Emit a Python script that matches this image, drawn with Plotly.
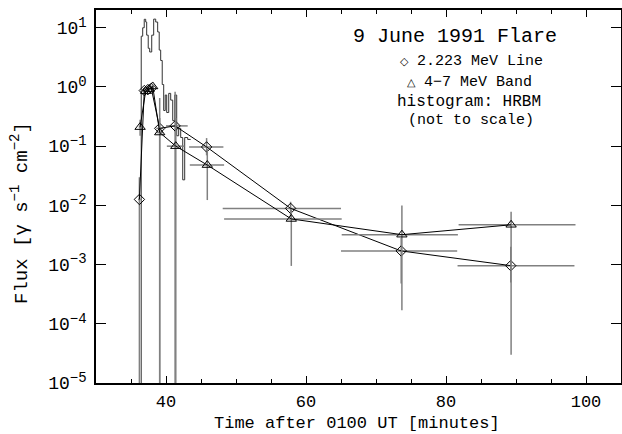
import plotly.graph_objects as go

# 2.223 MeV line (diamonds)
line_t = [36.2, 36.9, 37.4, 37.9, 39.1, 41.3, 45.8, 57.8, 73.6, 89.25]
line_flux = [0.0126, 0.87, 0.9, 0.95, 0.2, 0.22, 0.097, 0.0089, 0.0017, 0.00096]
line_hi = [0.03, 0.95, 0.97, 1.03, 0.65, 0.83, 0.137, 0.0115, 0.0028, 0.002]
line_lo = [1e-9, 0.8, 0.83, 0.88, 1e-9, 1e-9, 0.07, 0.0063, 0.00048, 0.0005]
line_tminus = [0.2, 0.25, 0.25, 0.25, 0.5, 1.3, 2.5, 9.7, 8.6, 7.6]
line_tplus = [0.2, 0.25, 0.25, 0.25, 0.5, 1.8, 2.4, 7.2, 8.0, 9.1]

# 4-7 MeV band (triangles)
band_t = [36.3, 37.1, 37.6, 38.1, 39.1, 41.4, 45.9, 57.9, 73.7, 89.3]
band_flux = [0.21, 0.85, 0.92, 1.02, 0.17, 0.1, 0.048, 0.0059, 0.0032, 0.0047]
band_hi = [0.28, 0.92, 1.0, 1.1, 0.3, 0.3, 0.09, 0.0085, 0.01, 0.0078]
band_lo = [0.15, 0.78, 0.85, 0.95, 1e-9, 1e-9, 0.0123, 0.00095, 0.00017, 3e-5]
band_tminus = [0.2, 0.25, 0.25, 0.25, 0.5, 1.28, 2.5, 9.6, 8.6, 7.5]
band_tplus = [0.2, 0.25, 0.25, 0.25, 0.5, 1.24, 2.4, 7.2, 8.0, 9.2]

# HRBM histogram (not to scale): bin start times and values
hist_t = [36.46, 36.67, 36.89, 37.1, 37.24, 37.46, 37.67, 37.96, 38.24, 38.53,
          38.81, 39.03, 39.24, 39.46, 39.67, 39.89, 40.1, 40.39, 40.67, 40.96,
          41.24, 41.53, 41.81, 42.1, 42.39, 42.67, 43.1, 43.53]
hist_v = [7.2, 10, 13.9, 12.5, 7.5, 4.5, 3.9, 7.5, 14, 12.5,
          8.5, 4.2, 2.8, 1.1, 0.4, 0.73, 0.37, 0.78, 0.6, 0.27,
          0.73, 0.15, 0.2, 0.14, 0.027, 0.14, 0.13, 0.13]

ytick_vals = [1e-5, 1e-4, 1e-3, 1e-2, 1e-1, 1, 10]
ytick_exp = ["−5", "−4", "−3", "−2", "−1", "0", "1"]
xtick_vals = [40, 60, 80, 100]

FONT = "Liberation Mono"
W, H = 622, 434
ML, MR, MT, MB = 96, 1, 10, 51
PW, PH = W - ML - MR, H - MT - MB


def px(x, y):
    return (x - ML) / PW, (H - MB - y) / PH


def sup(s, size=13):
    return "<sup><span style='font-size:%dpx'>%s</span></sup>" % (size, s)


fig = go.Figure()

fig.add_trace(go.Scatter(x=[hist_t[0]] + hist_t, y=[1e-7] + hist_v, mode="lines",
                         line=dict(color="#333333", width=1, shape="hv"), hoverinfo="skip"))

err_col = "#808080"
fig.add_trace(go.Scatter(
    x=line_t, y=line_flux, mode="lines+markers",
    line=dict(color="black", width=1),
    marker=dict(symbol="diamond-open", size=8, color="black", line=dict(width=1)),
    error_x=dict(type="data", array=line_tplus, arrayminus=line_tminus, color=err_col, thickness=1.5, width=0),
    error_y=dict(type="data", array=[h - f for h, f in zip(line_hi, line_flux)],
                 arrayminus=[f - l for f, l in zip(line_flux, line_lo)], color=err_col, thickness=1.5, width=0)))

fig.add_trace(go.Scatter(
    x=band_t, y=band_flux, mode="lines+markers",
    line=dict(color="black", width=1),
    marker=dict(symbol="triangle-up-open", size=9, color="black", line=dict(width=1)),
    error_x=dict(type="data", array=band_tplus, arrayminus=band_tminus, color=err_col, thickness=1.5, width=0),
    error_y=dict(type="data", array=[h - f for h, f in zip(band_hi, band_flux)],
                 arrayminus=[f - l for f, l in zip(band_flux, band_lo)], color=err_col, thickness=1.5, width=0)))

notes = [
    ("9 June 1991 Flare", 455, 36, 20),
    ("<span style='font-size:11px'>◇</span> 2.223 MeV Line", 471, 62, 15),
    ("<span style='font-size:11px'>△</span> 4−7 MeV Band", 469, 82, 15),
    ("histogram: HRBM", 469, 102, 16),
    ("(not to scale)", 471, 121, 15),
]
for text, x, y, size in notes:
    ax, ay = px(x, y)
    fig.add_annotation(text=text, x=ax, y=ay, xref="paper", yref="paper", showarrow=False,
                       xanchor="center", yanchor="middle", font=dict(size=size))

ax, ay = px(20, 213)
fig.add_annotation(text="Flux [γ s" + sup("−1", 14) + " cm" + sup("−2", 14) + "]", x=ax, y=ay,
                   xref="paper", yref="paper", showarrow=False, textangle=-90,
                   xanchor="center", yanchor="middle", font=dict(size=19))
ax, ay = px(357, 423)
fig.add_annotation(text="Time after 0100 UT [minutes]", x=ax, y=ay, xref="paper", yref="paper",
                   showarrow=False, xanchor="center", yanchor="middle", font=dict(size=17))

fig.update_xaxes(range=[30, 105], tickvals=xtick_vals, ticks="inside", ticklen=7, tickwidth=1,
                 tickcolor="black", showline=True, linecolor="black", linewidth=1.5, mirror="ticks",
                 showgrid=False, zeroline=False, ticklabelstandoff=2, automargin=False,
                 tickfont=dict(size=17),
                 minor=dict(dtick=5, tick0=0, ticks="inside", ticklen=4, tickcolor="black", showgrid=False))
fig.update_yaxes(type="log", range=[-5, 1.3], tickvals=ytick_vals,
                 ticktext=["10" + sup(e, 14) for e in ytick_exp], ticks="inside",
                 ticklen=10, tickwidth=1, tickcolor="black", showline=True, linecolor="black", linewidth=1.5,
                 mirror="ticks", showgrid=False, zeroline=False, ticklabelstandoff=4, automargin=False,
                 tickfont=dict(size=18))

fig.update_layout(width=W, height=H, margin=dict(l=ML, r=MR, t=MT, b=MB),
                  paper_bgcolor="white", plot_bgcolor="white", showlegend=False,
                  font=dict(family=FONT, size=15, color="black"))

fig.write_html("out.html", config={"displayModeBar": False},
               post_script="document.body.style.margin='0';")
